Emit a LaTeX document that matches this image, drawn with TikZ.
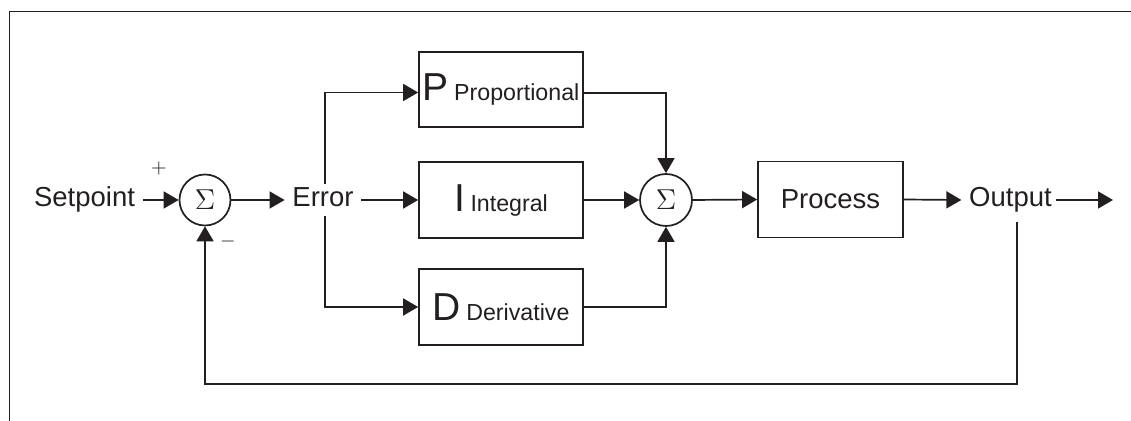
\documentclass[tikz,border=0pt]{standalone}
\usepackage{fontspec}
\setmainfont{Liberation Sans}
\usetikzlibrary{arrows.meta}
\definecolor{ink}{RGB}{35,31,32}
\newcommand\pidBig[1]{{\fontsize{19.5}{21}\selectfont #1}}
\newcommand\pidSmall[1]{{\fontsize{11.6}{13}\selectfont #1}}
\begin{document}
\begin{tikzpicture}[x=0.5pt,y=-0.5pt,line width=0.85pt,color=ink,
  lbl/.style={font=\fontsize{13.75}{16}\selectfont, inner xsep=3.5pt, inner ysep=1pt,
              text height=10pt, text depth=3.5pt, anchor=base},
  blk/.style={draw, inner sep=0pt, minimum width=82pt, minimum height=38pt},
  sumnode/.style={circle, draw, minimum size=25.5pt, inner sep=0pt, font=\fontsize{14}{16}\selectfont},
  sgn/.style={inner sep=0pt, font=\fontsize{10}{11}\selectfont},
  arr/.style={-{Triangle[length=7.5pt,width=8.5pt]}}]
\useasboundingbox (0,0) rectangle (1131,421);
% frame
\draw[line width=0.65pt] (9.5,421) -- (9.5,11.5) -- (1131,11.5);
% nodes
\node[lbl] (sp) at (84.5,206.5) {Setpoint};
\node[sumnode] (s1) at (205,200) {$\Sigma$};
\node[sgn] (plus) at (159,169) {$+$};
\node[sgn] (minus) at (228,242) {$-$};
\node[lbl] (err) at (323,206.5) {Error};
\node[blk, minimum height=37.5pt] (P) at (501,89.5) {\pidBig{P} \pidSmall{Proportional}};
\node[blk] (I) at (501,200) {\pidBig{I} \pidSmall{Integral}};
\node[blk] (D) at (501,307) {\pidBig{D} \pidSmall{Derivative}};
\node[sumnode, minimum size=26pt] (s2) at (666,200) {$\Sigma$};
\node[blk, minimum width=72.5pt, font=\fontsize{13.75}{16}\selectfont] (proc) at (830.5,199.5) {Process};
\node[lbl] (out) at (1010.5,206.5) {Output};
\coordinate (end) at (1113,200);
\coordinate (fb) at (1017,222);
% connectors
\draw[arr] (sp.east) -- (s1.west);
\draw[arr] (s1.east) -- (err.west);
\draw[arr] (err.east) -- (I.west);
\draw[arr] ([xshift=1pt]err.north) |- ([yshift=-1.5pt]P.west);
\draw[arr] ([xshift=1pt]err.south) |- (D.west);
\draw[arr] ([yshift=-1.75pt]P.east) -| (s2.north);
\draw[arr] (I.east) -- (s2.west);
\draw[arr] (D.east) -| (s2.south);
\draw[arr] (s2.east) -- (proc.west);
\draw[arr] (proc.east) -- (out.west);
\draw[arr] ([xshift=-2pt]out.east) -- (end);
\draw[arr] (fb) -- ++(0,162) -| (s1.south);
\end{tikzpicture}
\end{document}
